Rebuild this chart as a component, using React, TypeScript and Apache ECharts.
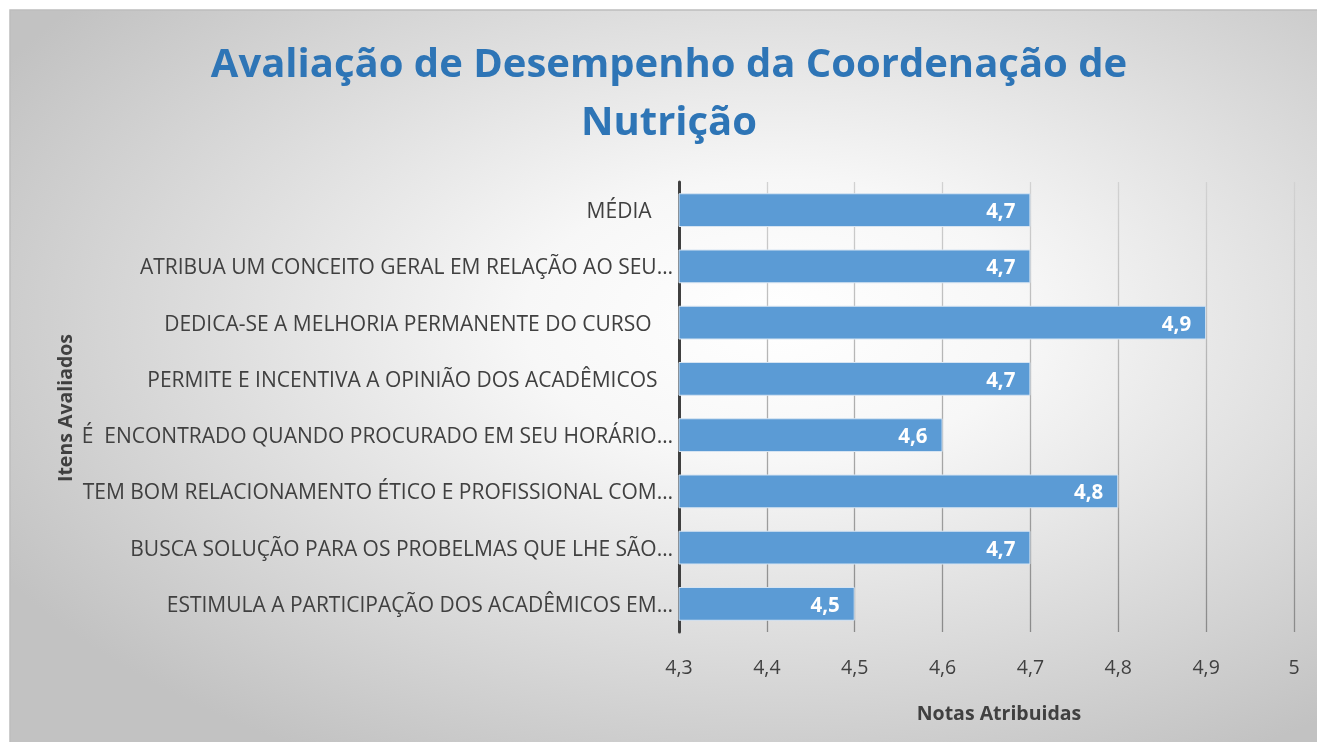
import React, { useEffect, useRef } from "react";
import * as echarts from "echarts";

const categories = [
  "ESTIMULA A PARTICIPAÇÃO DOS ACADÊMICOS EM…",
  "BUSCA SOLUÇÃO PARA OS PROBELMAS QUE LHE SÃO…",
  "TEM BOM RELACIONAMENTO ÉTICO E PROFISSIONAL COM…",
  "É  ENCONTRADO QUANDO PROCURADO EM SEU HORÁRIO…",
  "PERMITE E INCENTIVA A OPINIÃO DOS ACADÊMICOS ",
  "DEDICA-SE A MELHORIA PERMANENTE DO CURSO ",
  "ATRIBUA UM CONCEITO GERAL EM RELAÇÃO AO SEU…",
  "MÉDIA ",
];
const values = [4.5, 4.7, 4.8, 4.6, 4.7, 4.9, 4.7, 4.7];
const xMin = 4.3;
const xMax = 5;
const xInterval = 0.1;
const titleLines = ["Avaliação de Desempenho da Coordenação de", "Nutrição"];
const xAxisName = "Notas Atribuidas";
const yAxisName = "Itens Avaliados";

const fmt = (v: number) => String(Math.round(v * 10) / 10).replace(".", ",");

export default function App() {
  const ref = useRef<HTMLDivElement>(null);
  useEffect(() => {
    const chart = echarts.init(ref.current!, null, { renderer: "svg" });
    const font = "'Open Sans', sans-serif";
    const extraPad = (c: string) =>
      c.startsWith("MÉDIA") || c.startsWith("DEDICA") ? 16 : c.startsWith("PERMITE") ? 10 : 0;
    chart.setOption({
      animation: false,
      textStyle: { fontFamily: font },
      graphic: [
        {
          type: "rect",
          z: -10,
          silent: true,
          shape: { x: 10, y: 10, width: 1320, height: 740 },
          style: {
            fill: {
              type: "radial",
              x: 0.58,
              y: 0.42,
              r: 0.68,
              colorStops: [
                { offset: 0, color: "#ffffff" },
                { offset: 0.28, color: "#f7f7f7" },
                { offset: 1, color: "#c2c2c2" },
              ],
            },
            stroke: "#bdbdbd",
            lineWidth: 1.5,
          },
        },
        {
          type: "text",
          x: 669,
          y: 32,
          style: {
            text: titleLines.join("\n"),
            fill: "#2e75b6",
            font: `bold 40px ${font}`,
            textAlign: "center",
            lineHeight: 58,
          },
        },
        {
          type: "text",
          x: 64,
          y: 408,
          rotation: Math.PI / 2,
          style: {
            text: yAxisName,
            fill: "#404040",
            font: `bold 19.5px ${font}`,
            textAlign: "center",
            textVerticalAlign: "middle",
          },
        },
        {
          type: "text",
          x: 999,
          y: 712,
          style: {
            text: xAxisName,
            fill: "#404040",
            font: `bold 19.5px ${font}`,
            textAlign: "center",
            textVerticalAlign: "middle",
          },
        },
      ],
      grid: { left: 679, right: 23, top: 182, bottom: 110, containLabel: false },
      xAxis: {
        type: "value",
        min: xMin,
        max: xMax,
        interval: xInterval,
        axisLine: { show: false },
        axisTick: { show: false },
        axisLabel: {
          color: "#404040",
          fontSize: 19.5,
          margin: 24,
          formatter: (v: number) => fmt(v),
        },
        splitLine: {
          show: true,
          lineStyle: {
            width: 1.3,
            color: {
              type: "linear",
              global: true,
              x: 0,
              y: 182,
              x2: 0,
              y2: 632,
              colorStops: [
                { offset: 0, color: "#d2d2d2" },
                { offset: 1, color: "#8a8a8a" },
              ],
            },
          },
        },
      },
      yAxis: {
        type: "category",
        data: categories.map((c) => ({
          value: c,
          textStyle: { padding: [0, extraPad(c), 0, 0] },
        })),
        axisLine: { show: true, lineStyle: { color: "#404040", width: 3 } },
        axisTick: { show: false },
        axisLabel: { color: "#404040", fontSize: 21, margin: 6 },
      },
      series: [
        {
          type: "bar",
          data: values,
          barCategoryGap: "40%",
          itemStyle: { color: "#5b9bd5", borderColor: "#d6e4f2", borderWidth: 1 },
          label: {
            show: true,
            position: "insideRight",
            distance: 15,
            color: "#ffffff",
            fontWeight: "bold",
            fontSize: 20.5,
            formatter: (p: any) => fmt(p.value),
          },
        },
      ],
    });
    return () => chart.dispose();
  }, []);
  return (
    <div
      ref={ref}
      style={{ position: "fixed", left: 0, top: 0, width: 1317, height: 742 }}
    />
  );
}
